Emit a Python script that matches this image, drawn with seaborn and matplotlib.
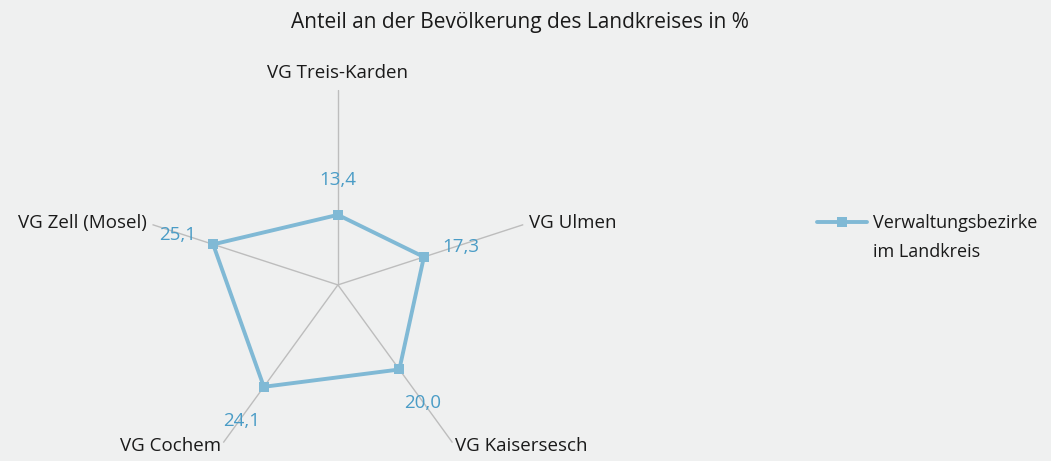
import numpy as np
import pandas as pd
import matplotlib
matplotlib.use('Agg')
import matplotlib.pyplot as plt
import seaborn as sns

# Daten
bezirke = ['VG Treis-Karden', 'VG Ulmen', 'VG Kaisersesch', 'VG Cochem', 'VG Zell (Mosel)']
anteil = [13.4, 17.3, 20.0, 24.1, 25.1]
serie = ['Verwaltungsbezirke', 'im Landkreis']
titel = 'Anteil an der Bevölkerung des Landkreises in %'

sns.set_theme(style='white')
plt.rcParams['font.family'] = ['Open Sans', 'DejaVu Sans']

bg = '#eff0f0'
linie = '#80b9d5'
wert_farbe = '#4a9cc6'
schrift = '#1a1a1a'

n = len(bezirke)
winkel = np.linspace(0, 2 * np.pi, n, endpoint=False)
df = pd.DataFrame({
    'winkel': np.append(winkel, winkel[0]),
    'anteil': anteil + [anteil[0]],
})

fig = plt.figure(figsize=(10.51, 4.61), dpi=100, facecolor=bg)
ax = fig.add_axes([0.136, -0.041, 0.371, 0.846], projection='polar')
ax.set_facecolor(bg)
ax.set_theta_offset(np.pi / 2)
ax.set_theta_direction(-1)
rmax = 37.3
ax.set_ylim(0, rmax)

sns.lineplot(data=df, x='winkel', y='anteil', sort=False, ax=ax,
             color=linie, linewidth=2.8, marker='s', markersize=7,
             markeredgewidth=0, label=serie[0], estimator=None)

ax.set_xticks(winkel)
ax.set_xticklabels([])
ax.set_yticks([])
ax.xaxis.grid(True, color='#bdbdbd', linewidth=1)
ax.yaxis.grid(False)
ax.spines['polar'].set_visible(False)
ax.set_xlabel('')
ax.set_ylabel('')

# Achsenbeschriftung
ausrichtung = [('center', 'bottom', 1.04), ('left', 'center', 1.03),
               ('left', 'center', 1.02), ('right', 'center', 1.02),
               ('right', 'center', 1.03)]
for w, name, (ha, va, f) in zip(winkel, bezirke, ausrichtung):
    ax.text(w, rmax * f, name, ha=ha, va=va, fontsize=13.5,
            color=schrift, clip_on=False)

# Datenbeschriftung
versatz = [(0, 35), (37, 10), (23, -34), (-22, -34), (-35, 9)]
for w, v, (dx, dy) in zip(winkel, anteil, versatz):
    ax.annotate(f'{v:.1f}'.replace('.', ','), xy=(w, v), xytext=(dx, dy),
                textcoords='offset pixels', ha='center', va='center',
                fontsize=13.5, color=wert_farbe)

# Legende (zweite Zeile separat, damit die Linie auf Höhe der ersten Zeile sitzt)
ax.legend_.remove()
handles, labels = ax.get_legend_handles_labels()
fig.legend(handles, labels, loc='center left', bbox_to_anchor=(0.777, 0.516),
           frameon=False, fontsize=13, handlelength=2.8, handletextpad=0.3,
           labelcolor=schrift, borderaxespad=0, borderpad=0)
fig.text(0.8307, 0.453, serie[1], ha='left', va='center', fontsize=13, color=schrift)

fig.text(0.495, 0.952, titel, ha='center', va='center', fontsize=15, color=schrift)

fig.savefig('out.png', dpi=100, facecolor=bg)
